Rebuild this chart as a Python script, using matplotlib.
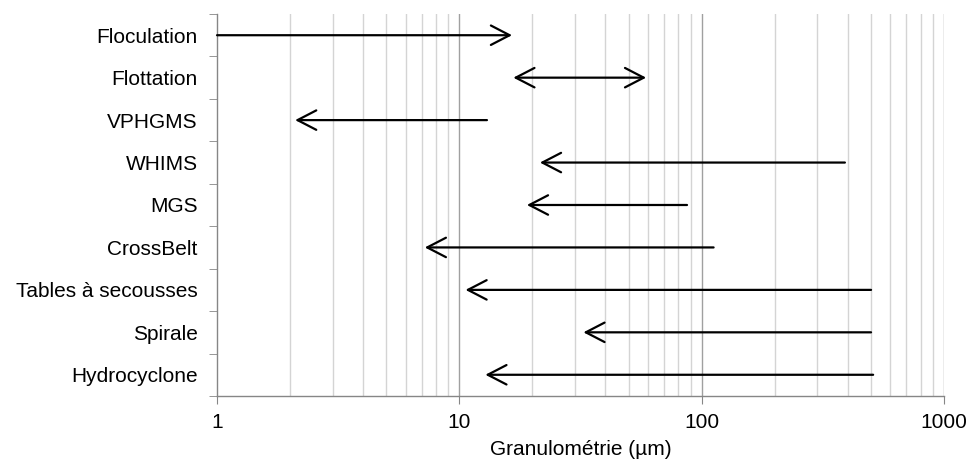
import numpy as np
import matplotlib
matplotlib.use('Agg')
import matplotlib.pyplot as plt
from matplotlib.ticker import FixedLocator, NullFormatter

plt.rcParams['font.family'] = ['Liberation Sans', 'DejaVu Sans']

# Procédés et plages granulométriques (µm): départ -> pointe de flèche
procedes = ['Floculation', 'Flottation', 'VPHGMS', 'WHIMS', 'MGS', 'CrossBelt',
            'Tables à secousses', 'Spirale', 'Hydrocyclone']
debut = [1, 16.7, 13, 390, 87, 112, 500, 500, 510]
fin = [16.5, 59, 2.1, 21.5, 19, 7.2, 10.6, 32.5, 12.8]
double = [False, True, False, False, False, False, False, False, False]

x_ticks = [1, 10, 100, 1000]
x_ticklabels = ['1', '10', '100', '1000']

fig = plt.figure(figsize=(9.71, 4.65), dpi=100)
ax = fig.add_axes([0.2235, 0.1484, 0.9722 - 0.2235, 0.9699 - 0.1484])

ax.set_xscale('log')
ax.set_xlim(1, 1000)
n = len(procedes)
ax.set_ylim(n - 0.5, -0.5)

# grille verticale
minor = [m * 10 ** d for d in range(3) for m in range(2, 10)]
for v in minor:
    ax.axvline(v, color='#d4d4d4', lw=1.0, zorder=0)
for v in [10, 100, 1000]:
    ax.axvline(v, color='#a0a0a0', lw=1.0, zorder=0)

# flèches
for i, (a, b, dbl) in enumerate(zip(debut, fin, double)):
    style = '<->' if dbl else '->'
    ax.annotate('', xy=(b, i), xytext=(a, i),
                arrowprops=dict(arrowstyle=style + ',head_length=1.35,head_width=0.7',
                                mutation_scale=10, color='black', lw=1.6,
                                shrinkA=0, shrinkB=0))

# axes
for s in ['top', 'right']:
    ax.spines[s].set_visible(False)
for s in ['left', 'bottom']:
    ax.spines[s].set_color('#868686')
    ax.spines[s].set_linewidth(1.0)

ax.xaxis.set_major_locator(FixedLocator(x_ticks))
ax.set_xticklabels(x_ticklabels)
ax.xaxis.set_minor_locator(FixedLocator([]))
ax.xaxis.set_minor_formatter(NullFormatter())
ax.tick_params(axis='x', which='major', direction='out', length=6, color='#868686',
               labelsize=15, pad=6, labelcolor='black')

ax.set_yticks(range(n))
ax.set_yticklabels(procedes)
ax.yaxis.set_minor_locator(FixedLocator(np.arange(-0.5, n, 1.0)))
ax.tick_params(axis='y', which='major', length=0, labelsize=15, pad=14)
ax.tick_params(axis='y', which='minor', direction='out', length=6, color='#868686')

ax.set_xlabel('Granulométrie (µm)', fontsize=15, labelpad=6)

fig.savefig('out.png', dpi=100)
